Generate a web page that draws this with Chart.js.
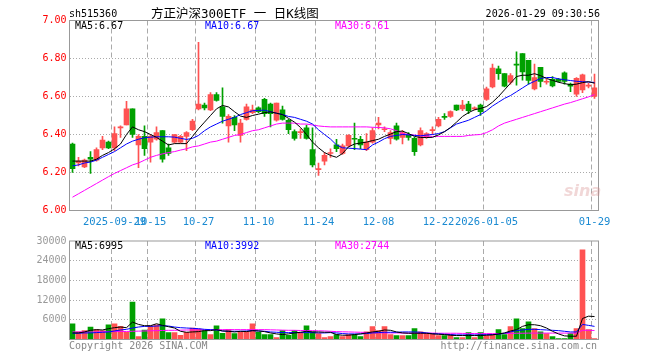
<!DOCTYPE html>
<html>
<head>
<meta charset="utf-8">
<script src="https://cdn.jsdelivr.net/npm/chart.js@4.4.1/dist/chart.umd.min.js"></script>
<style>
body { margin: 0; background: #fff; }
#wrap { position: relative; width: 660px; height: 360px; font-family: "DejaVu Sans Mono", monospace; font-size: 10px; }
canvas { position: absolute; left: 0; }
.t { position: absolute; white-space: pre; line-height: 12px; }
</style>
</head>
<body>
<div id="wrap">
  <canvas id="kline" width="660" height="232" style="top:0"></canvas>
  <canvas id="vol" width="660" height="128" style="top:232px"></canvas>

  <div class="t" style="left:69px;top:8px">sh515360</div>
  <div class="t" style="left:151px;top:5px;line-height:18px;font-family:'DejaVu Sans Mono','Noto Sans CJK SC';font-size:12.5px">方正沪深300ETF 一 日K线图</div>
  <div class="t" style="right:60px;top:8px">2026-01-29 09:30:56</div>

  <div class="t" style="left:75px;top:20px;color:#000">MA5:6.67</div>
  <div class="t" style="left:205px;top:20px;color:#00f">MA10:6.67</div>
  <div class="t" style="left:335px;top:20px;color:#f0f">MA30:6.61</div>

  <div class="t" style="left:564px;top:182px;font-family:'DejaVu Sans';font-weight:bold;font-style:italic;font-size:16px;line-height:18px;color:rgba(215,140,140,0.35)">sina</div>

  <div class="t" style="left:75px;top:240px;color:#000">MA5:6995</div>
  <div class="t" style="left:205px;top:240px;color:#00f">MA10:3992</div>
  <div class="t" style="left:335px;top:240px;color:#f0f">MA30:2744</div>

  <div class="t" style="left:69px;top:340px;color:#888">Copyright 2026 SINA.COM</div>
  <div class="t" style="right:63px;top:340px;color:#888">http://finance.sina.com.cn</div>
</div>

<script>
// 交易日
const dates = [
  '2025-09-18','2025-09-19','2025-09-22','2025-09-23','2025-09-24','2025-09-25','2025-09-26','2025-09-29','2025-09-30','2025-10-09',
  '2025-10-10','2025-10-13','2025-10-14','2025-10-15','2025-10-16','2025-10-17','2025-10-20','2025-10-21','2025-10-22','2025-10-23',
  '2025-10-24','2025-10-27','2025-10-28','2025-10-29','2025-10-30','2025-10-31','2025-11-03','2025-11-04','2025-11-05','2025-11-06',
  '2025-11-07','2025-11-10','2025-11-11','2025-11-12','2025-11-13','2025-11-14','2025-11-17','2025-11-18','2025-11-19','2025-11-20',
  '2025-11-21','2025-11-24','2025-11-25','2025-11-26','2025-11-27','2025-11-28','2025-12-01','2025-12-02','2025-12-03','2025-12-04',
  '2025-12-05','2025-12-08','2025-12-09','2025-12-10','2025-12-11','2025-12-12','2025-12-15','2025-12-16','2025-12-17','2025-12-18',
  '2025-12-19','2025-12-22','2025-12-23','2025-12-24','2025-12-25','2025-12-26','2025-12-29','2025-12-30','2025-12-31','2026-01-05',
  '2026-01-06','2026-01-07','2026-01-08','2026-01-09','2026-01-12','2026-01-13','2026-01-14','2026-01-15','2026-01-16','2026-01-19',
  '2026-01-20','2026-01-21','2026-01-22','2026-01-23','2026-01-26','2026-01-27','2026-01-28','2026-01-29'
];

// 横轴上显示的日期和文字
const tickDates = ['2025-09-29','2025-10-15','2025-10-27','2025-11-10','2025-11-24','2025-12-08','2025-12-22','2026-01-05','2026-01-29'];
const tickLabels = ['2025-09-29','10-15','10-27','11-10','11-24','12-08','12-22','2026-01-05','01-29'];

// 开 高 低 收
const opens = [
  6.35,6.25,6.23,6.28,6.265,6.33,6.36,6.33,6.435,6.45,
  6.535,6.345,6.39,6.36,6.375,6.42,6.33,6.36,6.36,6.39,
  6.425,6.535,6.555,6.53,6.61,6.545,6.445,6.49,6.395,6.48,
  6.515,6.54,6.585,6.56,6.475,6.53,6.475,6.415,6.41,6.435,
  6.32,6.215,6.26,6.30,6.345,6.30,6.34,6.38,6.375,6.32,
  6.36,6.45,6.425,6.38,6.445,6.385,6.40,6.38,6.345,6.385,
  6.42,6.445,6.495,6.495,6.555,6.535,6.56,6.535,6.555,6.585,
  6.65,6.745,6.72,6.675,6.77,6.826,6.79,6.64,6.753,6.675,
  6.69,6.69,6.725,6.665,6.612,6.635,6.655,6.60
];
const highs = [
  6.355,6.28,6.27,6.31,6.33,6.39,6.365,6.44,6.445,6.575,
  6.535,6.40,6.445,6.40,6.44,6.42,6.35,6.40,6.395,6.415,
  6.48,6.885,6.565,6.62,6.62,6.645,6.505,6.50,6.48,6.56,
  6.555,6.545,6.59,6.565,6.565,6.55,6.48,6.425,6.43,6.45,
  6.435,6.25,6.305,6.325,6.375,6.35,6.40,6.46,6.39,6.405,
  6.435,6.49,6.44,6.42,6.46,6.42,6.41,6.385,6.435,6.41,
  6.44,6.49,6.51,6.525,6.555,6.58,6.575,6.545,6.56,6.65,
  6.77,6.76,6.72,6.72,6.835,6.826,6.79,6.77,6.753,6.69,
  6.705,6.695,6.73,6.67,6.70,6.718,6.67,6.718
];
const lows = [
  6.20,6.235,6.225,6.195,6.26,6.32,6.325,6.315,6.385,6.45,
  6.385,6.225,6.29,6.255,6.37,6.254,6.29,6.355,6.355,6.315,
  6.42,6.53,6.53,6.525,6.575,6.46,6.36,6.42,6.36,6.475,
  6.51,6.515,6.495,6.44,6.47,6.475,6.405,6.37,6.38,6.375,
  6.23,6.185,6.24,6.28,6.31,6.295,6.335,6.32,6.325,6.315,
  6.355,6.43,6.415,6.35,6.37,6.35,6.37,6.29,6.34,6.38,
  6.40,6.44,6.48,6.49,6.525,6.525,6.51,6.53,6.50,6.58,
  6.645,6.69,6.65,6.665,6.66,6.686,6.665,6.635,6.65,6.665,
  6.65,6.675,6.665,6.625,6.60,6.62,6.645,6.59
];
const closes = [
  6.22,6.26,6.265,6.27,6.32,6.37,6.33,6.405,6.44,6.535,
  6.40,6.39,6.325,6.39,6.41,6.27,6.30,6.40,6.39,6.41,
  6.47,6.56,6.54,6.61,6.58,6.495,6.495,6.45,6.46,6.545,
  6.53,6.52,6.51,6.51,6.565,6.48,6.425,6.38,6.412,6.38,
  6.24,6.218,6.29,6.305,6.325,6.34,6.395,6.375,6.345,6.36,
  6.42,6.46,6.43,6.41,6.375,6.41,6.385,6.31,6.42,6.405,
  6.425,6.48,6.49,6.52,6.53,6.555,6.525,6.54,6.52,6.64,
  6.75,6.72,6.655,6.71,6.765,6.73,6.685,6.70,6.679,6.68,
  6.656,6.68,6.679,6.655,6.695,6.714,6.66,6.645
];

// 均线
const ma5 = [
  6.26,6.26,6.26,6.26,6.27,6.29,6.305,6.325,6.35,6.40,
  6.44,6.425,6.415,6.40,6.385,6.365,6.345,6.352,6.352,6.352,
  6.39,6.43,6.465,6.50,6.535,6.553,6.545,6.52,6.497,6.49,
  6.50,6.507,6.515,6.519,6.512,6.505,6.485,6.465,6.437,6.40,
  6.36,6.33,6.305,6.29,6.28,6.30,6.335,6.35,6.355,6.36,
  6.368,6.375,6.39,6.402,6.415,6.418,6.405,6.39,6.384,6.384,
  6.385,6.398,6.415,6.437,6.465,6.495,6.515,6.53,6.537,6.547,
  6.57,6.60,6.635,6.67,6.705,6.712,6.712,6.72,6.71,6.695,
  6.685,6.675,6.668,6.662,6.665,6.673,6.678,6.67
];
const ma10 = [
  6.235,6.24,6.25,6.255,6.265,6.28,6.295,6.31,6.33,6.35,
  6.365,6.375,6.383,6.386,6.388,6.388,6.388,6.386,6.38,6.374,
  6.38,6.395,6.42,6.44,6.455,6.47,6.48,6.49,6.505,6.515,
  6.525,6.527,6.528,6.52,6.512,6.505,6.495,6.49,6.48,6.47,
  6.455,6.425,6.40,6.376,6.345,6.33,6.328,6.326,6.323,6.32,
  6.345,6.36,6.378,6.39,6.395,6.40,6.398,6.395,6.393,6.397,
  6.40,6.405,6.415,6.435,6.455,6.465,6.475,6.49,6.505,6.525,
  6.55,6.57,6.59,6.605,6.625,6.645,6.665,6.68,6.695,6.70,
  6.70,6.693,6.688,6.684,6.68,6.678,6.676,6.674
];
const ma30 = [
  6.07,6.088,6.106,6.124,6.142,6.16,6.178,6.195,6.21,6.225,
  6.24,6.25,6.265,6.28,6.29,6.298,6.305,6.31,6.318,6.325,
  6.335,6.34,6.35,6.36,6.365,6.375,6.385,6.395,6.40,6.41,
  6.42,6.425,6.435,6.445,6.455,6.46,6.46,6.46,6.455,6.455,
  6.45,6.445,6.442,6.44,6.44,6.44,6.44,6.44,6.44,6.44,
  6.438,6.437,6.435,6.43,6.42,6.405,6.40,6.397,6.393,6.392,
  6.39,6.39,6.39,6.39,6.39,6.39,6.395,6.398,6.40,6.41,
  6.425,6.445,6.46,6.47,6.48,6.49,6.50,6.51,6.52,6.53,
  6.54,6.55,6.56,6.568,6.578,6.588,6.598,6.61
];

// 成交量
const volumes = [
  4800,2300,2700,3800,3000,2700,4500,4800,4000,2200,
  11400,900,2900,4200,4500,6300,2100,2100,1300,2200,
  3500,3200,2700,1500,4200,1900,3000,1800,2200,2300,
  4800,2200,1500,1500,600,2700,1300,2700,2000,4200,
  2300,1800,600,900,1500,900,1500,1500,900,2300,
  3900,2700,3900,1500,1200,1200,1200,3300,2300,1900,
  1900,1200,1200,1500,600,600,2100,600,2100,1200,
  1500,3000,1500,3900,6300,3300,5400,3300,2300,1800,
  900,300,300,1800,3300,27300,3000,300
];
const volMa5 = [
  2000,2000,2300,2800,3000,2900,3300,3600,3800,3600,
  5300,4600,4200,4200,4800,4300,3900,3500,2500,2200,
  2300,2400,2700,2700,3000,2600,2500,2300,2500,2400,
  2700,2600,2400,2000,1700,1500,1700,2000,2200,2500,
  2300,2300,2200,2200,1500,1300,1300,1500,1700,2000,
  2300,2500,2900,2800,2300,2000,1900,1900,1900,1900,
  1700,1600,1500,1300,1200,1200,1200,1200,1200,1300,
  1400,1700,2000,2600,3000,4000,4500,4500,4200,3500,
  2500,1700,1100,1000,1000,6400,7100,7000
];
const volMa10 = [
  1900,1900,2000,2000,2100,2200,2300,2600,2900,3100,
  3500,3800,4000,4000,4100,4200,4100,3800,3600,3500,
  3400,3300,3100,3000,2900,2600,2500,2500,2500,2600,
  2700,2600,2500,2300,2200,2100,2100,2100,2100,2100,
  2100,2000,2000,2100,2000,1800,1700,1700,1700,1800,
  2000,2100,2200,2200,2200,2300,2300,2300,2200,2000,
  1800,1700,1600,1500,1400,1400,1400,1400,1400,1500,
  1500,1600,1900,2300,2700,2900,3100,3100,3000,2900,
  2800,2700,2500,2300,2300,4600,4300,4000
];
const volMa30 = [
  2300,2300,2300,2300,2300,2350,2400,2400,2450,2450,
  2500,2550,2600,2650,2700,2750,2800,2800,2850,2900,
  2900,2950,2950,3000,3000,3000,3000,3000,3000,3000,
  3000,3000,3000,2950,2900,2850,2800,2800,2750,2700,
  2700,2650,2600,2500,2400,2350,2300,2250,2200,2150,
  2100,2050,2000,2000,2000,1950,1950,1950,1950,1950,
  1950,1900,1900,1900,1900,1850,1850,1800,1800,1800,
  1800,1800,1850,1850,1900,1900,1950,1950,1950,1950,
  1950,1950,1950,1950,1950,2800,2800,2750
];

const UP = '#ff5252';
const DOWN = '#00a000';
const candleColors = closes.map((c, i) => c >= opens[i] ? UP : DOWN);
const gridIdx = tickDates.map(d => dates.indexOf(d));

// 外框
const framePlugin = {
  id: 'frame',
  afterDraw(chart) {
    const a = chart.chartArea, ctx = chart.ctx;
    ctx.save();
    ctx.strokeStyle = '#999';
    ctx.lineWidth = 1;
    ctx.strokeRect(a.left, a.top, a.right - a.left + 1, a.bottom - a.top);
    ctx.restore();
  }
};

function maLine(label, data, color) {
  return { type: 'line', label: label, data: data, borderColor: color, borderWidth: 1,
           pointRadius: 0, tension: 0, order: 0 };
}

function xScale(showLabels, height) {
  return {
    type: 'category',
    offset: true,
    grid: {
      offset: true,
      drawTicks: false,
      color: ctx => gridIdx.includes(ctx.index) ? '#aaa' : 'rgba(0,0,0,0)'
    },
    border: { display: false, dash: [5, 3] },
    ticks: {
      display: showLabels,
      autoSkip: false,
      maxRotation: 0,
      minRotation: 0,
      padding: 5,
      color: '#1a8ad2',
      font: { family: 'DejaVu Sans Mono', size: 10.5 },
      callback: (v, i) => {
        const k = tickDates.indexOf(dates[i]);
        return k >= 0 ? tickLabels[k] : '';
      }
    },
    afterFit: s => { s.height = height; }
  };
}

new Chart(document.getElementById('kline'), {
  data: {
    labels: dates,
    datasets: [
      maLine('MA5', ma5, '#000'),
      maLine('MA10', ma10, '#00f'),
      maLine('MA30', ma30, '#f0f'),
      { type: 'bar', label: 'body', data: opens.map((o, i) => [o, closes[i]]),
        backgroundColor: candleColors, barThickness: 5, minBarLength: 1, grouped: false, order: 1 },
      { type: 'bar', label: 'wick', data: lows.map((l, i) => [l, highs[i]]),
        backgroundColor: candleColors, barThickness: 1, grouped: false, order: 2 }
    ]
  },
  options: {
    responsive: false,
    animation: false,
    events: [],
    layout: { padding: { left: 0, top: 20.5, right: 62.5, bottom: 0 } },
    plugins: { legend: { display: false }, tooltip: { enabled: false } },
    scales: {
      x: xScale(true, 21.5),
      y: {
        min: 6, max: 7,
        grid: {
          drawTicks: false,
          color: ctx => (ctx.tick && ctx.tick.value > 6.01 && ctx.tick.value < 6.99) ? '#aaa' : 'rgba(0,0,0,0)'
        },
        border: { display: false, dash: [1, 2] },
        ticks: {
          stepSize: 0.2, padding: 3, color: '#f00',
          font: { family: 'DejaVu Sans Mono', size: 10 },
          callback: v => v.toFixed(2)
        },
        afterFit: s => { s.width = 69.5; }
      }
    }
  },
  plugins: [framePlugin]
});

new Chart(document.getElementById('vol'), {
  data: {
    labels: dates,
    datasets: [
      maLine('MA5', volMa5, '#000'),
      maLine('MA10', volMa10, '#00f'),
      maLine('MA30', volMa30, '#f0f'),
      { type: 'bar', label: 'vol', data: volumes, backgroundColor: candleColors,
        barThickness: 5, order: 1 }
    ]
  },
  options: {
    responsive: false,
    animation: false,
    events: [],
    layout: { padding: { left: 0, top: 7.5, right: 62.5, bottom: 0 } },
    plugins: { legend: { display: false }, tooltip: { enabled: false } },
    scales: {
      x: xScale(false, 20.5),
      y: {
        min: 0, max: 30000,
        grid: {
          drawTicks: false,
          color: ctx => (ctx.tick && ctx.tick.value > 0 && ctx.tick.value < 30000) ? '#aaa' : 'rgba(0,0,0,0)'
        },
        border: { display: false, dash: [1, 2] },
        ticks: {
          stepSize: 6000, padding: 3, color: '#999',
          font: { family: 'DejaVu Sans Mono', size: 10 },
          callback: v => v === 0 ? '' : String(v)
        },
        afterFit: s => { s.width = 69.5; }
      }
    }
  },
  plugins: [framePlugin]
});
</script>
</body>
</html>
